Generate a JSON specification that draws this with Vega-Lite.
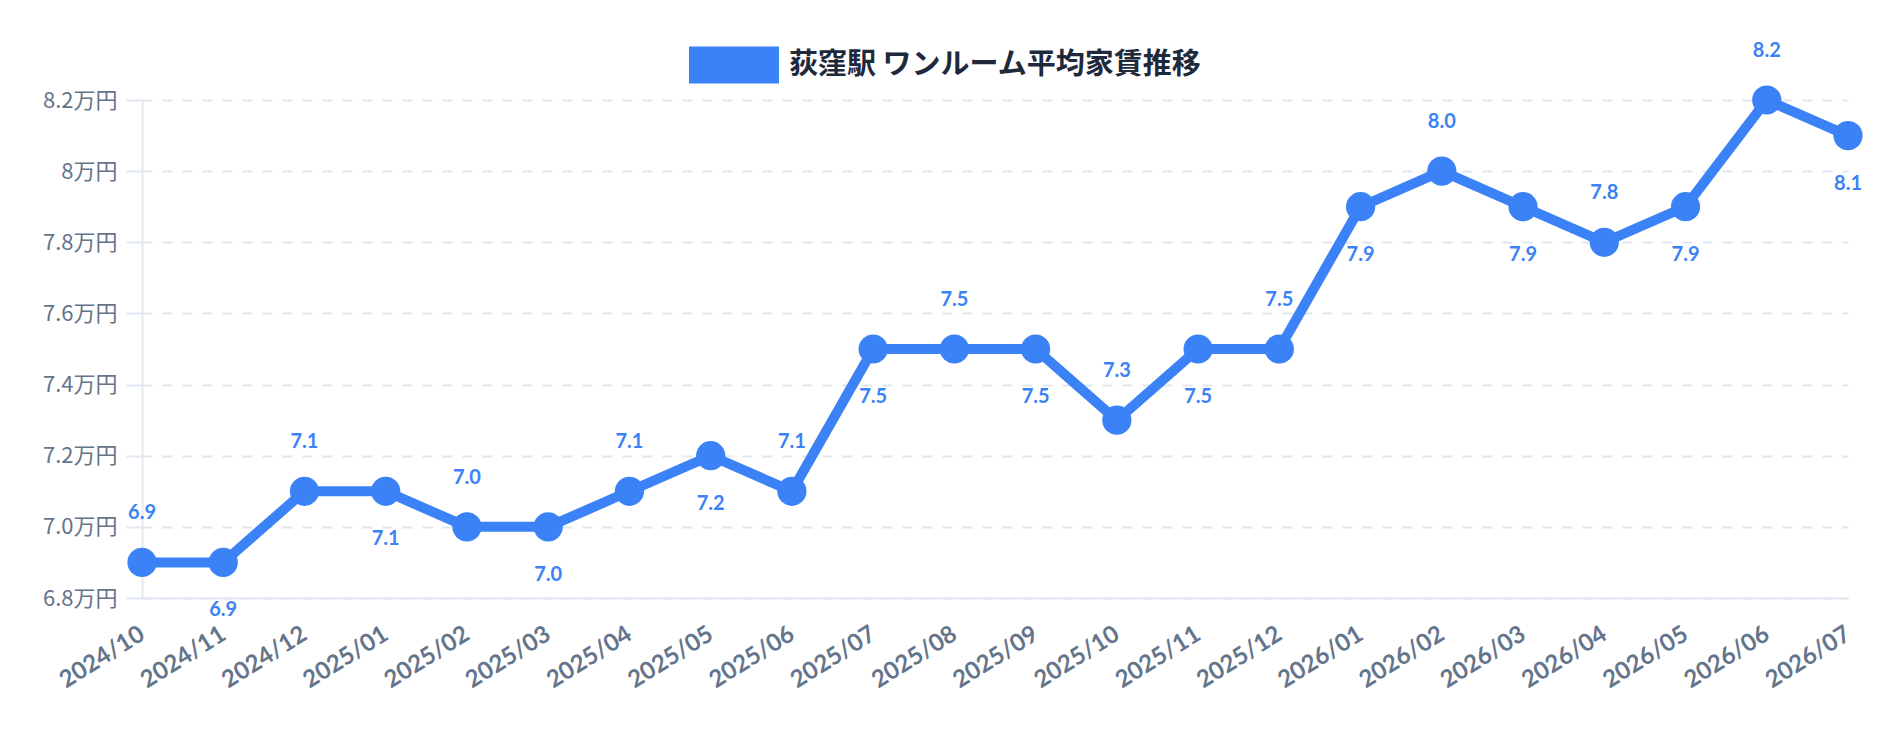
{
  "$schema": "https://vega.github.io/schema/vega-lite/v6.json",
  "width": 1706,
  "height": 498,
  "autosize": {"type": "none"},
  "padding": {"left": 142, "top": 100, "right": 32, "bottom": 134},
  "background": "#ffffff",
  "config": {
    "view": {"stroke": null},
    "axis": {"titleFontSize": 0}
  },
  "data": {
    "values": [
      {"month": "2024/10", "rent": 6.9, "series": "荻窪駅 ワンルーム平均家賃推移"},
      {"month": "2024/11", "rent": 6.9, "series": "荻窪駅 ワンルーム平均家賃推移"},
      {"month": "2024/12", "rent": 7.1, "series": "荻窪駅 ワンルーム平均家賃推移"},
      {"month": "2025/01", "rent": 7.1, "series": "荻窪駅 ワンルーム平均家賃推移"},
      {"month": "2025/02", "rent": 7.0, "series": "荻窪駅 ワンルーム平均家賃推移"},
      {"month": "2025/03", "rent": 7.0, "series": "荻窪駅 ワンルーム平均家賃推移"},
      {"month": "2025/04", "rent": 7.1, "series": "荻窪駅 ワンルーム平均家賃推移"},
      {"month": "2025/05", "rent": 7.2, "series": "荻窪駅 ワンルーム平均家賃推移"},
      {"month": "2025/06", "rent": 7.1, "series": "荻窪駅 ワンルーム平均家賃推移"},
      {"month": "2025/07", "rent": 7.5, "series": "荻窪駅 ワンルーム平均家賃推移"},
      {"month": "2025/08", "rent": 7.5, "series": "荻窪駅 ワンルーム平均家賃推移"},
      {"month": "2025/09", "rent": 7.5, "series": "荻窪駅 ワンルーム平均家賃推移"},
      {"month": "2025/10", "rent": 7.3, "series": "荻窪駅 ワンルーム平均家賃推移"},
      {"month": "2025/11", "rent": 7.5, "series": "荻窪駅 ワンルーム平均家賃推移"},
      {"month": "2025/12", "rent": 7.5, "series": "荻窪駅 ワンルーム平均家賃推移"},
      {"month": "2026/01", "rent": 7.9, "series": "荻窪駅 ワンルーム平均家賃推移"},
      {"month": "2026/02", "rent": 8.0, "series": "荻窪駅 ワンルーム平均家賃推移"},
      {"month": "2026/03", "rent": 7.9, "series": "荻窪駅 ワンルーム平均家賃推移"},
      {"month": "2026/04", "rent": 7.8, "series": "荻窪駅 ワンルーム平均家賃推移"},
      {"month": "2026/05", "rent": 7.9, "series": "荻窪駅 ワンルーム平均家賃推移"},
      {"month": "2026/06", "rent": 8.2, "series": "荻窪駅 ワンルーム平均家賃推移"},
      {"month": "2026/07", "rent": 8.1, "series": "荻窪駅 ワンルーム平均家賃推移"}
    ]
  },
  "transform": [
    {"window": [{"op": "row_number", "as": "idx"}]}
  ],
  "encoding": {
    "x": {
      "field": "month",
      "type": "ordinal",
      "sort": null,
      "scale": {"type": "point", "padding": 0},
      "axis": {
        "title": null,
        "grid": false,
        "ticks": false,
        "domain": true,
        "domainColor": "#e2e8f0",
        "domainWidth": 2,
        "labelAngle": -32,
        "labelAlign": "right",
        "labelBaseline": "middle",
        "labelPadding": 34,
        "labelFont": "Lato",
        "labelFontWeight": "bold",
        "labelFontSize": 24,
        "labelColor": "#64748b",
        "labelOverlap": false
      }
    },
    "y": {
      "field": "rent",
      "type": "quantitative",
      "scale": {"domain": [6.8, 8.2], "zero": false, "nice": false},
      "axis": {
        "title": null,
        "values": [6.8, 7.0, 7.2, 7.4, 7.6, 7.8, 8.0, 8.2],
        "labelExpr": "abs(datum.value - 8) < 0.001 ? '8万円' : format(datum.value, '.1f') + '万円'",
        "labelFont": "Noto Sans CJK JP",
        "labelFontSize": 22,
        "labelColor": "#64748b",
        "labelPadding": 9,
        "ticks": true,
        "tickSize": 16,
        "tickColor": "#e2e8f0",
        "tickWidth": 2,
        "domain": true,
        "domainColor": "#e2e8f0",
        "domainWidth": 2,
        "grid": true,
        "gridColor": "#cbd5e1",
        "gridOpacity": 0.6,
        "gridWidth": 2,
        "gridDash": [10, 10]
      }
    }
  },
  "layer": [
    {
      "mark": {"type": "line", "color": "#3b82f6", "strokeWidth": 10, "strokeJoin": "round"},
      "encoding": {}
    },
    {
      "mark": {"type": "point", "filled": true, "size": 855, "opacity": 1, "shape": "circle"},
      "encoding": {
        "color": {
          "field": "series",
          "type": "nominal",
          "scale": {"range": ["#3b82f6"]},
          "legend": {
            "title": null,
            "orient": "none",
            "legendX": 547,
            "legendY": -80,
            "padding": 0,
            "symbolType": "M-1,-0.41L1,-0.41L1,0.41L-1,0.41Z",
            "symbolSize": 8100,
            "symbolFillColor": "#3b82f6",
            "symbolStrokeWidth": 0,
            "labelOffset": 10,
            "labelFont": "Noto Sans CJK JP",
            "labelFontSize": 29,
            "labelFontWeight": "bold",
            "labelColor": "#1e293b",
            "labelLimit": 800,
            "encode": {
              "symbols": {
                "update": {
                  "shape": {"value": "M-1,-0.41L1,-0.41L1,0.41L-1,0.41Z"},
                  "size": {"value": 8100},
                  "fill": {"value": "#3b82f6"},
                  "strokeWidth": {"value": 0},
                  "opacity": {"value": 1}
                }
              }
            }
          }
        }
      }
    },
    {
      "transform": [{"filter": "datum.idx % 2 == 1"}],
      "mark": {"type": "text", "dy": -49, "baseline": "middle", "align": "center", "font": "Lato", "fontWeight": "bold", "fontSize": 20, "color": "#3b82f6"},
      "encoding": {"text": {"field": "rent", "type": "quantitative", "format": ".1f"}}
    },
    {
      "transform": [{"filter": "datum.idx % 2 == 0"}],
      "mark": {"type": "text", "dy": 48, "baseline": "middle", "align": "center", "font": "Lato", "fontWeight": "bold", "fontSize": 20, "color": "#3b82f6"},
      "encoding": {"text": {"field": "rent", "type": "quantitative", "format": ".1f"}}
    }
  ]
}
